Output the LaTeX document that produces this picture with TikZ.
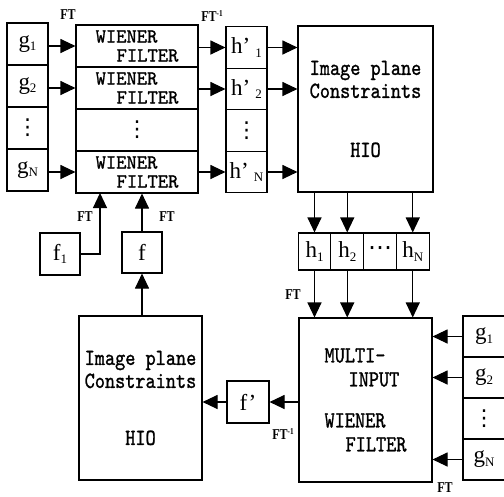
\documentclass[tikz,border=0pt]{standalone}
\usepackage{fontspec}
\setmainfont{Liberation Serif}
\newfontfamily\boxfont{lmmono10-regular}[Extension=.otf, FakeStretch=0.84, FakeBold=1.2]
\newfontfamily\wfont{lmmono10-regular}[Extension=.otf, FakeStretch=0.98, FakeBold=1.2]
\newfontfamily\ftfont{Liberation Serif}[FakeStretch=0.8]
\newfontfamily\symfont{DejaVu Sans}
\usepackage{tikz}
\usetikzlibrary{arrows.meta}
\newcommand{\lowidx}[1]{\raisebox{-0.3ex}{\fontsize{13}{13}\selectfont #1}}
\newcommand{\upidx}[1]{\raisebox{0.8ex}{\fontsize{9}{9}\selectfont #1}}
\newcommand{\vdotsym}{{\symfont\fontsize{22}{22}\selectfont ⋮}}

\begin{document}
\begin{tikzpicture}[x=1pt, y=-1pt, line width=1.1pt,
    cell/.style={draw, inner sep=0pt, minimum width=41pt, minimum height=42pt, font=\fontsize{23}{23}\selectfont},
    wcell/.style={draw, inner sep=0pt, minimum width=122pt, minimum height=42pt, align=left, font=\wfont\fontsize{20}{19}\selectfont},
    bigbox/.style={draw, inner sep=0pt, align=center, font=\boxfont\fontsize{23}{23}\selectfont},
    arr/.style={-{Triangle[length=15pt,width=14pt]}},
    ftlabel/.style={font=\ftfont\bfseries\fontsize{15}{15}\selectfont}]
    \useasboundingbox (0,0) rectangle (504,496);
    % input column
    \node[cell] (g1) at (27.5,44) {g\lowidx{1}};
    \node[cell] (g2) at (27.5,86) {g\lowidx{2}};
    \node[cell] (g3) at (27.5,128) {\vdotsym};
    \node[cell] (gN) at (27.5,170) {g\lowidx{N}};
    % filter bank
    \node[wcell] (w1) at (137,46) {WIENER\\\hspace*{21pt}FILTER};
    \node[wcell] (w2) at (137,88) {WIENER\\\hspace*{21pt}FILTER};
    \node[wcell] (w3) at (137,130) {\vdotsym};
    \node[wcell] (wN) at (137,172) {WIENER\\\hspace*{21pt}FILTER};
    % filtered outputs
    \node[cell, minimum height=41.5pt] (hp1) at (246.5,47.5) {h’\hspace{5pt}\lowidx{1}};
    \node[cell, minimum height=41.5pt] (hp2) at (246.5,89) {h’\hspace{5pt}\lowidx{2}};
    \node[cell, minimum height=41.5pt] (hp3) at (246.5,130.5) {\vdotsym};
    \node[cell, minimum height=41.5pt] (hpN) at (246.5,172) {h’\hspace{5pt}\lowidx{N}};
    % constraints
    \node[bigbox, minimum width=135pt, minimum height=166pt] (img) at (365.5,109) {Image plane\\Constraints\\[36pt]HIO};
    \node[cell, minimum width=32.75pt, minimum height=37pt] (h1) at (314.5,251.5) {h\lowidx{1}};
    \node[cell, minimum width=32.75pt, minimum height=37pt] (h2) at (347.25,251.5) {h\lowidx{2}};
    \node[cell, minimum width=32.75pt, minimum height=37pt, font=\symfont\fontsize{24}{24}\selectfont] (h3) at (380,251.5) {⋯};
    \node[cell, minimum width=32.75pt, minimum height=37pt] (hN) at (412.75,251.5) {h\lowidx{N}};
    \node[bigbox, minimum width=133pt, minimum height=164pt, align=left, font=\boxfont\fontsize{23}{24}\selectfont] (multi) at (365.5,400)
        {MULTI-\\\hspace*{24pt}INPUT\\[17pt]WIENER\\\hspace*{21pt}FILTER};
    \node[cell, minimum width=42pt, minimum height=41pt] (rg1) at (484,336.5) {g\lowidx{1}};
    \node[cell, minimum width=42pt, minimum height=41pt] (rg2) at (484,377.5) {g\lowidx{2}};
    \node[cell, minimum width=42pt, minimum height=41pt] (rg3) at (484,418.5) {\vdotsym};
    \node[cell, minimum width=42pt, minimum height=41pt] (rgN) at (484,459.5) {g\lowidx{N}};
    \node[cell, minimum width=42pt] (fp) at (248,402) {f’};
    \node[bigbox, minimum width=123pt, minimum height=164pt] (img2) at (140.5,398) {Image plane\\Constraints\\[34pt]HIO};
    \node[cell, minimum width=40pt, minimum height=41pt] (f) at (142,252.5) {f};
    \node[cell, minimum width=40pt] (f1) at (60,254) {f\lowidx{1}};
    \coordinate (fin) at (100,193);
    % connectors
    \foreach \i in {1,2,N} {
        \draw[arr] (g\i.east |- w\i) -- (w\i.west);
        \draw[arr] (w\i.east |- hp\i) -- (hp\i.west);
        \draw[arr] (hp\i.east) -- (hp\i.east -| img.west);
        \draw[arr] (h\i |- img.south) -- (h\i.north);
        \draw[arr] (h\i.south) -- (h\i |- multi.north);
        \draw[arr] (rg\i.west) -- (rg\i.west -| multi.east);
    }
    \draw[arr] (multi.west |- fp) -- (fp.east);
    \draw[arr] (fp.west) -- (fp.west -| img2.east);
    \draw[arr] (f |- img2.north) -- (f.south);
    \draw[arr] (f.north) -- (f |- wN.south);
    \draw[arr] (f1.east) -| (fin);
    % transform labels
    \node[ftlabel] (ft1) at (68,15) {FT};
    \node[ftlabel] (ft2) at (212,16) {FT\upidx{-1}};
    \node[ftlabel] (ft3) at (85,217) {FT};
    \node[ftlabel] (ft4) at (167,217) {FT};
    \node[ftlabel] (ft5) at (293,295) {FT};
    \node[ftlabel] (ft6) at (283,434) {FT\upidx{-1}};
    \node[ftlabel] (ft7) at (445,488) {FT};
\end{tikzpicture}
\end{document}
